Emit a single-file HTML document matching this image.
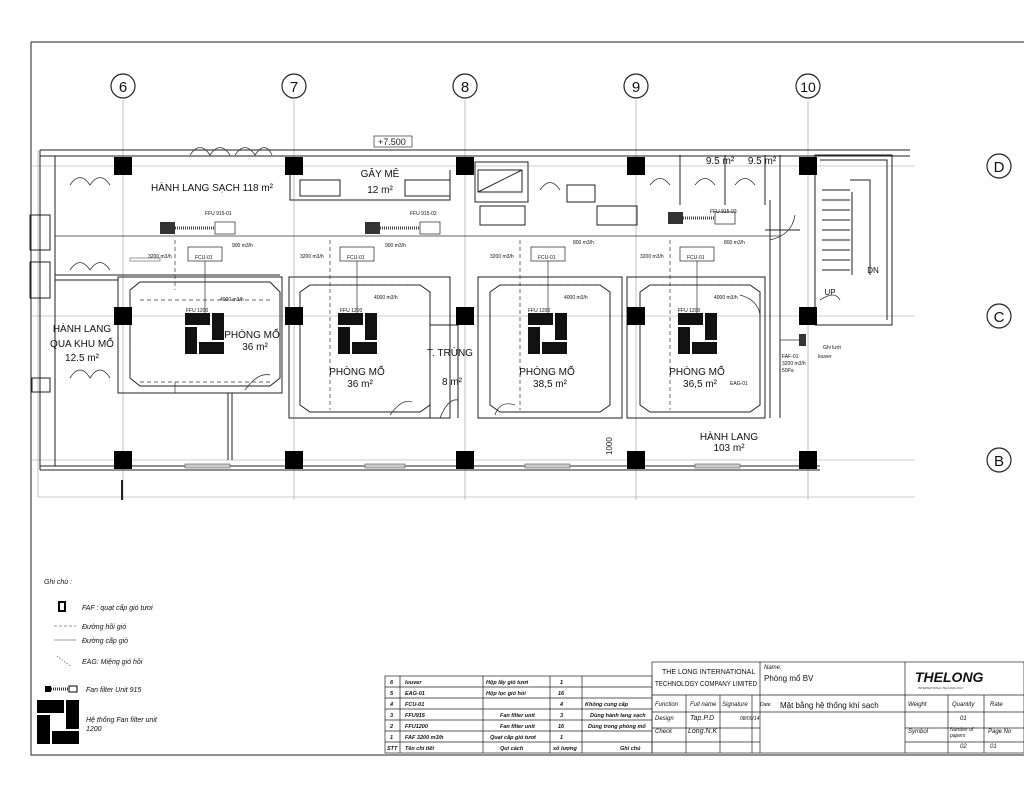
<!DOCTYPE html>
<html><head><meta charset="utf-8"><style>
html,body{margin:0;padding:0;background:#fff;}
svg{display:block;font-family:"Liberation Sans",sans-serif;}
.t{font-size:10px;fill:#111;}
.s{font-size:5px;fill:#111;}
.i{font-style:italic;font-size:7px;fill:#111;}
</style></head><body>
<svg width="1024" height="792" viewBox="0 0 1024 792" xmlns="http://www.w3.org/2000/svg">
<rect width="1024" height="792" fill="#fff"/>
<path d="M31 42 H1024 M31 42 V755 H1024" stroke="#222" stroke-width="1" fill="none"/>
<g stroke="#999" stroke-width="0.6">
<line x1="123" y1="100" x2="123" y2="500"/><line x1="294" y1="100" x2="294" y2="500"/>
<line x1="465" y1="100" x2="465" y2="500"/><line x1="636" y1="100" x2="636" y2="500"/>
<line x1="808" y1="100" x2="808" y2="500"/>
<line x1="30" y1="166" x2="915" y2="166"/><line x1="30" y1="316" x2="915" y2="316"/><line x1="30" y1="460" x2="915" y2="460"/>
<line x1="38" y1="497" x2="915" y2="497"/><line x1="38" y1="150" x2="38" y2="497"/>
</g>
<g stroke="#222" stroke-width="1.2" fill="#fff">
<circle cx="123" cy="86" r="12"/><circle cx="294" cy="86" r="12"/><circle cx="465" cy="86" r="12"/>
<circle cx="636" cy="86" r="12"/><circle cx="808" cy="86" r="12"/>
<circle cx="999" cy="166" r="12"/><circle cx="999" cy="316" r="12"/><circle cx="999" cy="460" r="12"/>
</g>
<g class="t" font-size="15" text-anchor="middle">
<text x="123" y="92" font-size="15">6</text><text x="294" y="92" font-size="15">7</text><text x="465" y="92" font-size="15">8</text>
<text x="636" y="92" font-size="15">9</text><text x="808" y="92" font-size="14">10</text>
<text x="999" y="172" font-size="15">D</text><text x="999" y="322" font-size="15">C</text><text x="999" y="466" font-size="15">B</text>
</g>
<g stroke="#222" stroke-width="1" fill="none">
<path d="M40 150 H910 M40 156 H910"/>
<path d="M40 150 V470 M55 156 V466"/>
<path d="M40 466 H820 M40 470 H820"/>
<path d="M55 275 H280 M55 280 H118"/>
<path d="M118 277 H282 V393 H118 Z"/>
<path d="M130 290 L140 282 H270 L280 292 V378 L270 386 H140 L130 378 Z"/>
<path d="M289 277 H450 V418 H289 Z"/>
<path d="M300 292 L310 285 H420 L430 292 V405 L420 412 H310 L300 405 Z"/>
<path d="M478 277 H622 V418 H478 Z"/>
<path d="M490 292 L500 285 H600 L610 292 V405 L600 412 H500 L490 405 Z"/>
<path d="M627 277 H765 V418 H627 Z"/>
<path d="M640 292 L650 285 H750 L760 292 V405 L750 412 H650 L640 405 Z"/>
<path d="M430 325 H458 V418 M430 325 V418"/>
<path d="M290 170 V200 H450 V170"/>
<path d="M475 162 H528 V202 H475 Z M478 170 H522 V192 H478 Z M478 192 L522 170"/>
<path d="M780 155 V418 M770 200 V418 M765 230 H800"/>
<path d="M815 155 H892 V325 H815 Z M820 160 H887 V320"/>
<path d="M850 180 H870 V275 M852 192 V275 M822 190 H850 M822 200 H850 M822 210 H850 M822 220 H850 M822 230 H850 M822 240 H850 M822 250 H850 M822 260 H850 M822 270 H850"/>
<path d="M300 180 H340 V196 H300 Z M405 180 H450 V196 H405 Z"/>
<path d="M480 206 H525 V225 H480 Z M597 206 H637 V225 H597 Z M567 185 H595 V202 H567 Z"/>
<path d="M680 155 V205 M725 155 V205 M765 155 V205"/>
<path d="M30 215 H50 V250 H30 Z M30 262 H50 V298 H30 Z M32 378 H50 V392 H32 Z"/>
<path d="M232 393 V460 M228 393 V460"/>
<path d="M122 480 V500" stroke-width="2"/>
</g>
<g stroke="#333" stroke-width="0.8" fill="none">
<path d="M70 185 Q80 170 90 185 Q100 170 110 185"/>
<path d="M190 155 Q200 140 210 155 Q220 140 230 155 M235 155 Q245 140 255 155 Q265 140 272 155"/>
<path d="M70 270 Q80 255 90 270 Q100 255 110 270"/>
<path d="M70 378 Q80 362 90 378 Q100 362 110 378"/>
<path d="M245 390 Q258 372 270 375"/><path d="M390 415 Q402 398 412 402"/>
<path d="M440 418 Q448 398 458 400"/><path d="M495 415 Q500 400 515 405"/>
<path d="M740 295 Q758 300 760 315"/><path d="M540 190 Q550 175 560 190"/>
<path d="M650 185 Q660 172 670 185 M695 185 Q705 172 715 185 M735 185 Q745 172 755 185"/>
<path d="M795 215 Q792 235 770 240"/><path d="M820 300 Q835 290 840 300"/>
</g>
<g stroke="#555" stroke-width="0.6" fill="#ccc">
<rect x="185" y="464" width="45" height="4"/><rect x="365" y="464" width="40" height="4"/>
<rect x="525" y="464" width="45" height="4"/><rect x="695" y="464" width="45" height="4"/>
<rect x="130" y="258" width="30" height="3" fill="none"/>
</g>
<g stroke="#333" stroke-width="0.7" fill="none">
<line x1="55" y1="236" x2="780" y2="236"/>
<path d="M175 240 V290" stroke-dasharray="4,3"/><path d="M175 382 V393"/>
<path d="M205 252 V320"/><path d="M357 252 V320"/><path d="M548 252 V320"/><path d="M697 252 V320"/>
<path d="M130 290 V378" stroke-dasharray="4,3"/>
<path d="M330 240 V410" stroke-dasharray="4,3"/><path d="M520 240 V410" stroke-dasharray="4,3"/><path d="M670 240 V410" stroke-dasharray="4,3"/>
<path d="M140 300 H270" stroke-dasharray="4,3"/><path d="M310 285 H420" stroke-dasharray="4,3"/>
<path d="M500 285 H600" stroke-dasharray="4,3"/><path d="M650 285 H750" stroke-dasharray="4,3"/>
<path d="M140 382 H270" stroke-dasharray="4,3"/>
<path d="M780 236 V340 H800"/>
</g>
<g stroke="#222" stroke-width="0.7" fill="#fff">
<rect x="188" y="247" width="34" height="14"/><rect x="340" y="247" width="34" height="14"/>
<rect x="531" y="247" width="34" height="14"/><rect x="680" y="247" width="34" height="14"/>
<rect x="215" y="222" width="20" height="12"/><rect x="420" y="222" width="20" height="12"/><rect x="715" y="212" width="20" height="12"/>
</g>
<g fill="#333">
<rect x="160" y="222" width="15" height="12"/><rect x="365" y="222" width="15" height="12"/><rect x="668" y="212" width="15" height="12"/>
<rect x="799" y="334" width="7" height="12"/>
</g>
<g stroke="#444" stroke-width="3" stroke-dasharray="1,1"><line x1="175" y1="228" x2="215" y2="228"/><line x1="380" y1="228" x2="420" y2="228"/><line x1="683" y1="218" x2="715" y2="218"/></g>
<g class="s">
<text x="205" y="215">FFU 915-01</text><text x="410" y="215">FFU 915-02</text><text x="710" y="213">FFU 915-03</text>
<text x="195" y="259">FCU-01</text><text x="347" y="259">FCU-01</text><text x="538" y="259">FCU-01</text><text x="687" y="259">FCU-01</text>
<text x="148" y="258">3200 m3/h</text><text x="300" y="258">3200 m3/h</text><text x="490" y="258">3200 m3/h</text><text x="640" y="258">3200 m3/h</text>
<text x="232" y="247">900 m3/h</text><text x="385" y="247">900 m3/h</text><text x="573" y="244">800 m3/h</text><text x="724" y="244">800 m3/h</text>
<text x="220" y="301">4000 m3/h</text><text x="374" y="299">4000 m3/h</text><text x="564" y="299">4000 m3/h</text><text x="714" y="299">4000 m3/h</text>
<text x="186" y="312">FFU 1200</text><text x="340" y="312">FFU 1200</text><text x="528" y="312">FFU 1200</text><text x="678" y="312">FFU 1200</text>
<text x="782" y="358">FAF-01</text><text x="782" y="365">3200 m3/h</text><text x="782" y="372">50Pa</text>
<text x="818" y="358">louver</text><text x="823" y="349">Ghi lưới</text><text x="730" y="385">EAG-01</text>
</g>
<g fill="#111">
<g transform="translate(185,313)"><rect x="0" y="0" width="25" height="12"/><rect x="27" y="0" width="12" height="27"/><rect x="0" y="14" width="12" height="27"/><rect x="14" y="29" width="25" height="12"/></g>
<g transform="translate(338,313)"><rect x="0" y="0" width="25" height="12"/><rect x="27" y="0" width="12" height="27"/><rect x="0" y="14" width="12" height="27"/><rect x="14" y="29" width="25" height="12"/></g>
<g transform="translate(528,313)"><rect x="0" y="0" width="25" height="12"/><rect x="27" y="0" width="12" height="27"/><rect x="0" y="14" width="12" height="27"/><rect x="14" y="29" width="25" height="12"/></g>
<g transform="translate(678,313)"><rect x="0" y="0" width="25" height="12"/><rect x="27" y="0" width="12" height="27"/><rect x="0" y="14" width="12" height="27"/><rect x="14" y="29" width="25" height="12"/></g>
</g>
<g fill="#000">
<rect x="114" y="157" width="18" height="18"/><rect x="285" y="157" width="18" height="18"/><rect x="456" y="157" width="18" height="18"/><rect x="627" y="157" width="18" height="18"/><rect x="799" y="157" width="18" height="18"/>
<rect x="114" y="307" width="18" height="18"/><rect x="285" y="307" width="18" height="18"/><rect x="456" y="307" width="18" height="18"/><rect x="627" y="307" width="18" height="18"/><rect x="799" y="307" width="18" height="18"/>
<rect x="114" y="451" width="18" height="18"/><rect x="285" y="451" width="18" height="18"/><rect x="456" y="451" width="18" height="18"/><rect x="627" y="451" width="18" height="18"/><rect x="799" y="451" width="18" height="18"/>
</g>
<rect x="374" y="136" width="38" height="11" fill="#fff" stroke="#333" stroke-width="0.7"/>
<text x="378" y="145" font-size="9" fill="#222">+7.500</text>
<g class="t" text-anchor="middle" font-size="9.5">
<text x="212" y="191" textLength="122" lengthAdjust="spacingAndGlyphs">HÀNH LANG SẠCH  118 m²</text>
<text x="380" y="177">GÂY MÊ</text><text x="380" y="193">12 m²</text>
<text x="720" y="164">9.5 m²</text><text x="762" y="164">9.5 m²</text>
<text x="82" y="332">HÀNH LANG</text><text x="82" y="347">QUA KHU MỔ</text><text x="82" y="361">12.5 m²</text>
<text x="252" y="338">PHÒNG MỔ</text><text x="255" y="350">36 m²</text>
<text x="357" y="375">PHÒNG MỔ</text><text x="360" y="387">36 m²</text>
<text x="450" y="356">T. TRÙNG</text><text x="452" y="385">8 m²</text>
<text x="547" y="375">PHÒNG MỔ</text><text x="550" y="387">38,5 m²</text>
<text x="697" y="375">PHÒNG MỔ</text><text x="700" y="387">36,5 m²</text>
<text x="729" y="440">HÀNH LANG</text><text x="729" y="451">103 m²</text>
<text x="873" y="273" font-size="8">DN</text><text x="830" y="295" font-size="8">UP</text>
</g>
<text x="0" y="0" font-size="8" transform="translate(612,455) rotate(-90)" fill="#222">1000</text>
<text x="44" y="584" class="i">Ghi chú :</text>
<rect x="59" y="602" width="6" height="9" fill="#fff" stroke="#000" stroke-width="2"/>
<text x="82" y="610" class="i">FAF : quạt cấp gió tươi</text>
<line x1="54" y1="626" x2="76" y2="626" stroke="#333" stroke-width="0.6" stroke-dasharray="3,2"/>
<text x="82" y="629" class="i">Đường hồi gió</text>
<line x1="54" y1="640" x2="76" y2="640" stroke="#333" stroke-width="0.6"/>
<text x="82" y="643" class="i">Đường cấp gió</text>
<line x1="57" y1="656" x2="70" y2="666" stroke="#555" stroke-dasharray="1,2"/>
<text x="82" y="664" class="i">EAG: Miệng gió hồi</text>
<rect x="45" y="686" width="6" height="6" fill="#000"/><line x1="51" y1="689" x2="68" y2="689" stroke="#333" stroke-width="3" stroke-dasharray="1,1"/><rect x="69" y="686" width="8" height="6" fill="#fff" stroke="#000"/>
<text x="86" y="692" class="i">Fan filter Unit 915</text>
<g transform="translate(37,700)" fill="#000"><rect x="0" y="0" width="27" height="13"/><rect x="29" y="0" width="13" height="29"/><rect x="0" y="15" width="13" height="29"/><rect x="15" y="31" width="27" height="13"/></g>
<text x="86" y="722" class="i">Hệ thống Fan filter unit</text><text x="86" y="731" class="i">1200</text>
<g stroke="#222" stroke-width="0.7" fill="none">
<rect x="385" y="676" width="267" height="77"/>
<path d="M385 687 H652 M385 698 H652 M385 709 H652 M385 720 H652 M385 731 H652 M385 742 H652"/>
<path d="M400 676 V753 M483 676 V753 M550 676 V753 M582 676 V753"/>
<rect x="652" y="662" width="372" height="91"/>
<path d="M760 662 V753 M905 662 V753 M652 695 H1024 M652 712 H760 M652 728 H760 M652 742 H760 M760 712 H905 M905 712 H1024 M905 728 H1024 M905 742 H1024"/>
<path d="M686 695 V753 M720 695 V753 M752 695 V753 M948 695 V753 M984 695 V753"/>
</g>
<g font-size="5.5" font-style="italic" fill="#111" font-weight="bold">
<text x="390" y="684">6</text><text x="405" y="684">louver</text><text x="486" y="684">Hộp lấy gió tươi</text><text x="560" y="684">1</text>
<text x="390" y="695">5</text><text x="405" y="695">EAG-01</text><text x="486" y="695">Hộp lọc gió hồi</text><text x="558" y="695">16</text>
<text x="390" y="706">4</text><text x="405" y="706">FCU-01</text><text x="560" y="706">4</text><text x="585" y="706">Không cung cấp</text>
<text x="390" y="717">3</text><text x="405" y="717">FFU915</text><text x="500" y="717">Fan filter unit</text><text x="560" y="717">3</text><text x="590" y="717">Dùng hành lang sạch</text>
<text x="390" y="728">2</text><text x="405" y="728">FFU1200</text><text x="500" y="728">Fan filter unit</text><text x="558" y="728">16</text><text x="588" y="728">Dùng trong phòng mổ</text>
<text x="390" y="739">1</text><text x="405" y="739">FAF 3200 m3/h</text><text x="490" y="739">Quạt cấp gió tươi</text><text x="560" y="739">1</text>
<text x="387" y="750">STT</text><text x="405" y="750">Tên chi tiết</text><text x="500" y="750">Qui cách</text><text x="553" y="750">số lượng</text><text x="620" y="750">Ghi chú</text>
</g>
<g font-size="7" fill="#111">
<text x="662" y="674">THE LONG INTERNATIONAL</text><text x="655" y="686" textLength="102" lengthAdjust="spacingAndGlyphs">TECHNOLOGY COMPANY LIMITED</text>
<text x="764" y="669" font-size="6" font-style="italic">Name:</text><text x="764" y="681" font-size="8">Phòng mổ BV</text>
<text x="780" y="708" font-size="8">Mặt bằng hệ thống khí sạch</text>
</g>
<g font-size="6" font-style="italic" fill="#111">
<text x="655" y="706">Function</text><text x="690" y="706">Full name</text><text x="722" y="706">Signature</text><text x="760" y="706" font-size="5">Date</text>
<text x="655" y="720">Design</text><text x="690" y="720" font-size="7">Tap.P.D</text><text x="740" y="720" font-size="5">08/09/14</text>
<text x="655" y="733">Check</text><text x="688" y="733" font-size="7">Long.N.K</text>
<text x="908" y="706">Weight</text><text x="952" y="706">Quantity</text><text x="990" y="706">Rate</text>
<text x="960" y="720">01</text><text x="908" y="733">Symbol</text><text x="950" y="731" font-size="5">Number of</text><text x="950" y="737" font-size="5">papers</text><text x="988" y="733">Page No</text>
<text x="960" y="748">02</text><text x="990" y="748">01</text>
</g>
<text x="915" y="682" font-size="14" font-weight="bold" font-style="italic" fill="#111">THELONG</text>
<text x="918" y="689" font-size="3" fill="#333">INTERNATIONAL TECHNOLOGY</text>
</svg>
</body></html>
